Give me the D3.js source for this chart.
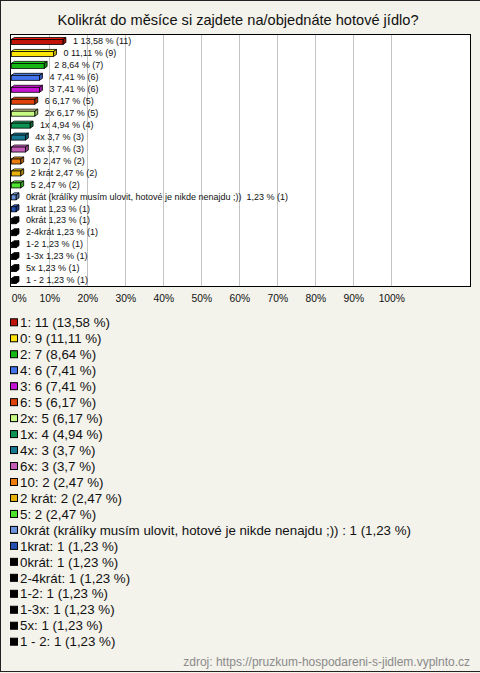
<!DOCTYPE html>
<html><head><meta charset="utf-8">
<script src="https://cdn.jsdelivr.net/npm/d3@7"></script>
<style>
html,body{margin:0;padding:0;background:#f3f2eb;}
svg{display:block;font-family:"Liberation Sans",Arial,sans-serif;}
text{white-space:pre;}
</style></head>
<body>
<script>
const title = "Kolikrát do měsíce si zajdete na/objednáte hotové jídlo?";
const categories = ["1","0","2","4","3","6","2x","1x","4x","6x","10","2 krát","5",
  "0krát (králíky musím ulovit, hotové je nikde nenajdu ;)) ","1krat","0krát","2-4krát","1-2","1-3x","5x","1 - 2"];
const counts = [11,9,7,6,6,5,5,4,3,3,2,2,2,1,1,1,1,1,1,1,1];
const respondents = 81;
const colors = ["#c01408","#ffe40a","#14b814","#4474ec","#c814d4","#e0420c","#c6fa82","#0c9452","#187a92","#c45cb8",
  "#ec7c0c","#e8b00c","#4ce42c","#6c94dc","#2450b4","#000","#000","#000","#000","#000","#000"];
const xTicks = [0,10,20,30,40,50,60,70,80,90,100];
const source = "zdroj: https://pruzkum-hospodareni-s-jidlem.vyplnto.cz";

const W = 480, H = 673;
const pct = counts.map(c => (c/respondents*100));
const fmt = v => (+v.toFixed(2)).toString().replace(".", ",");

const svg = d3.select("body").append("svg").attr("width", W).attr("height", H);
svg.append("rect").attr("x",0.5).attr("y",0.5).attr("width",W+2).attr("height",671)
  .attr("fill","#f3f2eb").attr("stroke","#222");

svg.append("text").attr("x", 238).attr("y", 25).attr("text-anchor","middle")
  .attr("font-size", 14.6).attr("fill","#111").text(title);

const pl = 10.5, pt = 34.5, pr = 470.5, pb = 286.5;
const x = d3.scaleLinear().domain([0,100]).range([11.3, 391.3]);
const y = d3.scaleBand().domain(categories.map((c,i)=>i)).range([35, 286]);

svg.append("rect").attr("x",pl).attr("y",pt).attr("width",pr-pl).attr("height",pb-pt)
  .attr("fill","#fff").attr("stroke","none");

svg.append("g").selectAll("line").data(xTicks.slice(1)).join("line")
  .attr("x1", d => Math.round(x(d))+0.5).attr("x2", d => Math.round(x(d))+0.5)
  .attr("y1", pt).attr("y2", pb).attr("stroke","#c4c4c4");

const ax = svg.append("g").attr("transform", `translate(0,${pb})`)
  .call(d3.axisBottom(x).tickValues(xTicks).tickFormat(d => d + "%").tickSize(0).tickPadding(8));
ax.select(".domain").remove();
ax.selectAll("text").attr("font-size", 10.3).attr("fill","#111")
  .attr("font-family","\"Liberation Sans\",Arial,sans-serif")
  .attr("text-anchor", d => d === 0 ? "start" : "middle");

svg.append("rect").attr("x",pl).attr("y",pt).attr("width",pr-pl).attr("height",pb-pt)
  .attr("fill","none").attr("stroke","#000");

const dx = 3, dy = 2, bh = 5;
const bars = svg.append("g").selectAll("g").data(categories).join("g");
bars.each(function(c, i){
  const g = d3.select(this);
  const cy = y(i) + y.bandwidth()/2;
  const x0 = x(0), x1 = x(pct[i]);
  const top = cy - 1.5;
  const col = d3.color(colors[i]);
  const light = col.brighter(0.6), dark = col.darker(0.8);
  g.append("path").attr("d", `M${x0},${top} L${x0+dx},${top-dy} L${x1+dx},${top-dy} L${x1},${top} Z`)
    .attr("fill", colors[i] === "#000" ? "#000" : light).attr("stroke","#000").attr("stroke-width",0.8);
  g.append("path").attr("d", `M${x1},${top} L${x1+dx},${top-dy} L${x1+dx},${top-dy+bh} L${x1},${top+bh} Z`)
    .attr("fill", colors[i] === "#000" ? "#000" : dark).attr("stroke","#000").attr("stroke-width",0.8);
  g.append("rect").attr("x", x0).attr("y", top).attr("width", x1-x0).attr("height", bh)
    .attr("fill", colors[i]).attr("stroke","#000").attr("stroke-width",0.8);
  g.append("text").attr("x", x1 + 10).attr("y", cy + 3.2).attr("font-size", 9).attr("fill","#111")
    .text(`${c} ${fmt(pct[i])} % (${counts[i]})`);
});

const lg = svg.append("g").selectAll("g").data(categories).join("g")
  .attr("transform", (d,i) => `translate(0,${322.3 + i*15.97})`);
lg.append("rect").attr("x",10.5).attr("y",-3.5).attr("width",7).attr("height",7)
  .attr("fill",(d,i)=>colors[i]).attr("stroke","#000");
lg.append("text").attr("x",20).attr("y",4.7).attr("font-size",13.3).attr("fill","#111")
  .text((d,i)=>`${d}: ${counts[i]} (${fmt(pct[i])} %)`);

svg.append("text").attr("x",470).attr("y",666).attr("text-anchor","end")
  .attr("font-size",12).attr("fill","#8a8a8a").text(source);
</script>
</body></html>
